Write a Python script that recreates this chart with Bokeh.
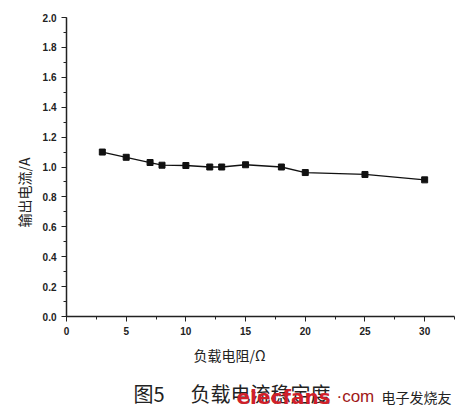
from bokeh.plotting import figure
from bokeh.layouts import column
from bokeh.models import Range1d, SingleIntervalTicker, Label, PrintfTickFormatter, Title
from bokeh.embed import file_html
from bokeh.resources import INLINE

# Data
resistance = [3, 5, 7, 8, 10, 12, 13, 15, 18, 20, 25, 30]
current = [1.10, 1.065, 1.03, 1.012, 1.01, 1.0, 1.0, 1.015, 1.0, 0.963, 0.95, 0.914]

x_label = "负载电阻/Ω"
y_label = "输出电流/A"
caption_num = "图5"
caption_text = "负载电流稳定度"

p = figure(width=472, height=372, output_backend="svg", toolbar_location=None,
           x_range=Range1d(0, 32.5), y_range=Range1d(0, 2.0),
           min_border_left=66, min_border_right=18, min_border_top=17, min_border_bottom=56)
p.outline_line_color = None
p.xgrid.visible = False
p.ygrid.visible = False

p.line(resistance, current, line_color="#111111", line_width=1.3)
p.scatter(resistance, current, marker="square", size=6, fill_color="#111111", line_color="#111111")

p.xaxis.ticker = SingleIntervalTicker(interval=5, num_minor_ticks=2)
p.yaxis.ticker = SingleIntervalTicker(interval=0.2, num_minor_ticks=2)
p.yaxis.formatter = PrintfTickFormatter(format="%.1f")

for ax in (p.xaxis, p.yaxis):
    ax.axis_line_color = "#222222"
    ax.axis_line_width = 1.5
    ax.major_tick_line_color = "#222222"
    ax.minor_tick_line_color = "#222222"
    ax.major_tick_out = 5
    ax.major_tick_in = 0
    ax.minor_tick_out = 3
    ax.minor_tick_in = 0
    ax.major_label_text_font = "Liberation Sans"
    ax.major_label_text_font_style = "bold"
    ax.major_label_text_font_size = "10px"
    ax.major_label_text_color = "#222222"

# axis titles as Titles so they can be shifted off-centre like the reference
xt = Title(text=x_label, align="left", offset=127, standoff=10,
           text_font="Noto Sans CJK SC", text_font_size="14px",
           text_font_style="normal", text_color="#222222")
p.add_layout(xt, "below")
yt = Title(text=y_label, align="left", offset=89, standoff=11,
           text_font="Noto Sans CJK SC", text_font_size="14px",
           text_font_style="normal", text_color="#222222")
p.add_layout(yt, "left")

# caption strip
c = figure(width=472, height=46, output_backend="svg", toolbar_location=None,
           x_range=Range1d(0, 1), y_range=Range1d(0, 1),
           min_border_left=66, min_border_right=18, min_border_top=0, min_border_bottom=0)
c.axis.visible = False
c.grid.visible = False
c.outline_line_color = None

def lab(x, y, text, color, font, size, style="normal"):
    c.add_layout(Label(x=x, y=y, x_units="screen", y_units="screen", text=text,
                       text_color=color, text_font=font, text_font_size=size,
                       text_font_style=style, text_baseline="middle"))

lab(67, 25, caption_num, "#222222", "Noto Sans CJK SC", "20px")
lab(124, 25, caption_text, "#222222", "Noto Sans CJK SC", "20px")
lab(170, 22, "elecfans", "#d0202a", "DejaVu Sans", "20px", "bold")
lab(270, 22, "·com", "#a01818", "Liberation Sans", "17px")
lab(315, 22, "电子发烧友", "#222222", "Noto Sans CJK SC", "14px")

open("out.html", "w").write(file_html(column(p, c, spacing=0), INLINE))
